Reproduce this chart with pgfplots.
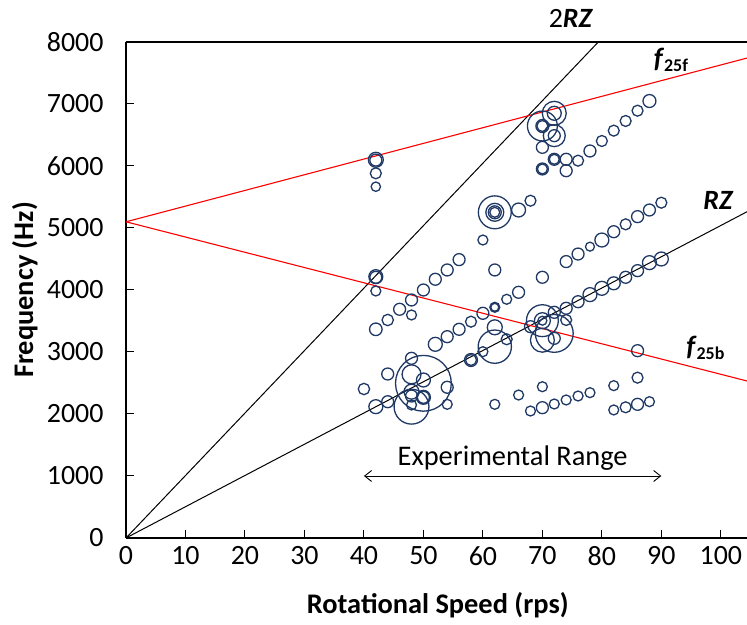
\documentclass[border=0pt]{standalone}
\usepackage{fontspec}
\setmainfont{Carlito}
\usepackage{pgfplots}
\pgfplotsset{compat=1.18}
\usepackage{pgfplotstable}
\usetikzlibrary{arrows.meta}
\definecolor{navy}{RGB}{31,56,100}
\definecolor{redline}{RGB}{255,0,0}
\pgfplotstableread{
x y r
42 6100 7.5
42 6095 6
42 5882 5.5
42 5666 4.7
42 4215 7
42 4205 6
42 3984 5
42 3366 6.3
44 3516 5.7
46 3689 6
48 3839 6
48 3597 5
50 4000 6
52 4173 6
54 4323 6
56 4490 6
52 3124 7
54 3247 6
56 3366 6
58 3489 5.5
60 3624 6
62 3721 5
62 3721 4
64 3850 5
66 3963 6
70 4205 6
74 4458 6
76 4580 6
78 4699 4.5
80 4806 7
82 4940 6
84 5059 5.5
86 5183 6
88 5290 6
90 5408 5.5
60 4806 5
62 4323 6
62 5253 16.5
62 5253 9
62 5253 6.5
62 5253 5
66 5290 7
68 5440 5.5
72 6850 12
72 6850 7
70 6645 15
70 6645 6.5
70 6645 5.5
72 6489 11
72 6489 6
70 6301 6
72 6108 6
72 6108 5
74 6108 6
76 6086 5.5
70 5952 6
70 5952 5
74 5924 6
78 6242 6
80 6403 5.5
82 6570 5.5
84 6726 5.5
86 6892 5.5
88 7048 6.5
72 3640 6
74 3705 6
76 3811 6
78 3925 7
80 4027 7
82 4108 6.5
84 4205 6
86 4312 6
88 4441 7
90 4500 7
70 3505 16
70 3505 8
70 3505 4.5
72 3300 19
70 3190 12
72 3220 6
68 3408 6
74 3516 5.5
62 3398 7.5
62 3086 16.7
64 3205 5.5
60 3005 5
58 2871 6.5
58 2871 5.5
48 2898 6
48 2640 9.5
50 2548 7
50 2495 28
48 2118 17.5
48 2360 7.5
48 2290 6
50 2269 7
50 2269 6
48 2145 5
54 2431 6
54 2156 5
44 2645 6
44 2198 6
42 2118 7
40 2403 5.7
62 2156 5
66 2306 5
70 2440 5
68 2048 5
70 2102 6
72 2161 5
74 2226 5
76 2290 5
78 2344 5
82 2457 5
86 2586 5.5
86 3021 6
82 2065 5
84 2108 5.5
86 2156 6
88 2199 5
}\circles
\begin{document}
\begin{tikzpicture}
\begin{axis}[
  scale only axis, width=621bp, height=496bp,
  xmin=0, xmax=104.4, ymin=0, ymax=8000,
  axis x line*=box, axis y line*=left,
  xtick={0,10,...,100}, ytick={0,1000,...,8000},
  xtick pos=bottom, ytick pos=left, tick align=inside,
  major tick length=8bp,
  every tick/.style={black, line width=1bp},
  axis line style={line width=1.8bp, black},
  /pgf/number format/assume math mode=true,
  /pgf/number format/1000 sep={},
  scaled y ticks=false,
  tick label style={font=\fontsize{28}{31}\selectfont},
  xticklabel style={yshift=-5bp},
  yticklabel style={xshift=-19bp},
  label style={font=\fontsize{28.5}{31}\selectfont\bfseries},
  xlabel={Rotational Speed (rps)}, ylabel={Frequency (Hz)},
  xlabel style={at={(axis description cs:0.502,-0.135)}, anchor=center},
  ylabel style={at={(axis description cs:-0.163,0.5)}, anchor=center},
  clip mode=individual,
]
\coordinate (bl) at (rel axis cs:0,0);
\coordinate (tr) at (rel axis cs:1,1);
% 2RZ and RZ lines
\addplot[black, line width=1bp] coordinates {(0,0) (79.4,8000)};
\addplot[black, line width=1bp] coordinates {(0,0) (104.4,5262)};
% f25f and f25b
\addplot[redline, line width=1.1bp] coordinates {(0,5100) (104.4,7741)};
\addplot[redline, line width=1.1bp] coordinates {(0,5100) (104.4,2532)};
% measured peaks
\addplot[scatter, only marks, mark=o, line width=1.3bp,
  scatter/use mapped color={draw=navy, fill=none},
  visualization depends on={\thisrow{r} \as \perpointmarksize},
  scatter/@pre marker code/.append style={/tikz/mark size=\perpointmarksize}]
  table[x=x, y=y] {\circles};
% annotations
\draw[{Straight Barb[length=7bp,width=11bp]}-{Straight Barb[length=7bp,width=11bp]}, line width=0.9bp] (axis cs:40,1000) -- (axis cs:90,1000);
\node[font=\fontsize{28.5}{31}\selectfont] at (axis cs:65,1290) {Experimental Range};
\node[font=\fontsize{28}{31}\selectfont] at (axis cs:74.8,8387) {2\textbf{\textit{RZ}}};
\node[font=\fontsize{28}{31}\selectfont] at (axis cs:99.6,5452) {\textbf{\textit{RZ}}};
\node[font=\fontsize{28}{31}\selectfont] at (axis cs:91.6,7710) {\textbf{\textit{f}}\raisebox{-0.35ex}{\fontsize{18}{20}\selectfont\bfseries 25f}};
\node[font=\fontsize{28}{31}\selectfont] at (axis cs:97.4,3065) {\textbf{\textit{f}}\raisebox{-0.35ex}{\fontsize{18}{20}\selectfont\bfseries 25b}};
\end{axis}
\pgfresetboundingbox
\path ([shift={(-126bp,-87bp)}]bl) rectangle ([shift={(0bp,42bp)}]tr);
\end{tikzpicture}
\end{document}
